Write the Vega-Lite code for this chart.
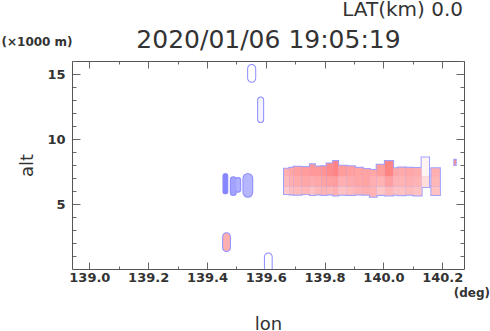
{
  "$schema": "https://vega.github.io/schema/vega-lite/v6.json",
  "width": 392,
  "height": 208,
  "autosize": "none",
  "padding": {"left": 72, "top": 61, "right": 26, "bottom": 62},
  "background": "white",
  "config": {"view": {"stroke": null}, "font": "DejaVu Sans"},
  "data": {"values": [
    {"kind": "band", "lon0": 139.662, "lon1": 139.680, "alt0": 5.76, "alt1": 6.35, "v": 1.4},
    {"kind": "band", "lon0": 139.662, "lon1": 139.680, "alt0": 6.35, "alt1": 7.15, "v": 1.8},
    {"kind": "band", "lon0": 139.662, "lon1": 139.680, "alt0": 7.15, "alt1": 7.72, "v": 2.1},
    {"kind": "band", "lon0": 139.680, "lon1": 139.694, "alt0": 5.74, "alt1": 6.35, "v": 1.7},
    {"kind": "band", "lon0": 139.680, "lon1": 139.694, "alt0": 6.35, "alt1": 7.15, "v": 2.1},
    {"kind": "band", "lon0": 139.680, "lon1": 139.694, "alt0": 7.15, "alt1": 7.78, "v": 2.3},
    {"kind": "band", "lon0": 139.694, "lon1": 139.722, "alt0": 5.72, "alt1": 6.35, "v": 1.8},
    {"kind": "band", "lon0": 139.694, "lon1": 139.722, "alt0": 6.35, "alt1": 7.15, "v": 2.2},
    {"kind": "band", "lon0": 139.694, "lon1": 139.722, "alt0": 7.15, "alt1": 7.86, "v": 2.5},
    {"kind": "band", "lon0": 139.722, "lon1": 139.750, "alt0": 5.76, "alt1": 6.35, "v": 1.9},
    {"kind": "band", "lon0": 139.722, "lon1": 139.750, "alt0": 6.35, "alt1": 7.15, "v": 2.3},
    {"kind": "band", "lon0": 139.722, "lon1": 139.750, "alt0": 7.15, "alt1": 7.84, "v": 2.6},
    {"kind": "band", "lon0": 139.750, "lon1": 139.767, "alt0": 5.70, "alt1": 6.35, "v": 1.6},
    {"kind": "band", "lon0": 139.750, "lon1": 139.767, "alt0": 6.35, "alt1": 7.15, "v": 2.2},
    {"kind": "band", "lon0": 139.750, "lon1": 139.767, "alt0": 7.15, "alt1": 8.05, "v": 2.7},
    {"kind": "band", "lon0": 139.767, "lon1": 139.790, "alt0": 5.74, "alt1": 6.35, "v": 1.9},
    {"kind": "band", "lon0": 139.767, "lon1": 139.790, "alt0": 6.35, "alt1": 7.15, "v": 2.3},
    {"kind": "band", "lon0": 139.767, "lon1": 139.790, "alt0": 7.15, "alt1": 7.88, "v": 2.7},
    {"kind": "band", "lon0": 139.790, "lon1": 139.807, "alt0": 5.70, "alt1": 6.35, "v": 2.0},
    {"kind": "band", "lon0": 139.790, "lon1": 139.807, "alt0": 6.35, "alt1": 7.15, "v": 2.4},
    {"kind": "band", "lon0": 139.790, "lon1": 139.807, "alt0": 7.15, "alt1": 7.90, "v": 2.8},
    {"kind": "band", "lon0": 139.807, "lon1": 139.829, "alt0": 5.74, "alt1": 6.35, "v": 1.9},
    {"kind": "band", "lon0": 139.807, "lon1": 139.829, "alt0": 6.35, "alt1": 7.15, "v": 2.5},
    {"kind": "band", "lon0": 139.807, "lon1": 139.829, "alt0": 7.15, "alt1": 8.12, "v": 3.0},
    {"kind": "band", "lon0": 139.829, "lon1": 139.846, "alt0": 5.66, "alt1": 6.35, "v": 2.1},
    {"kind": "band", "lon0": 139.829, "lon1": 139.846, "alt0": 6.35, "alt1": 7.15, "v": 2.6},
    {"kind": "band", "lon0": 139.829, "lon1": 139.846, "alt0": 7.15, "alt1": 8.30, "v": 3.2},
    {"kind": "band", "lon0": 139.846, "lon1": 139.875, "alt0": 5.72, "alt1": 6.35, "v": 1.6},
    {"kind": "band", "lon0": 139.846, "lon1": 139.875, "alt0": 6.35, "alt1": 7.15, "v": 2.1},
    {"kind": "band", "lon0": 139.846, "lon1": 139.875, "alt0": 7.15, "alt1": 7.95, "v": 2.6},
    {"kind": "band", "lon0": 139.875, "lon1": 139.903, "alt0": 5.70, "alt1": 6.35, "v": 1.8},
    {"kind": "band", "lon0": 139.875, "lon1": 139.903, "alt0": 6.35, "alt1": 7.15, "v": 2.2},
    {"kind": "band", "lon0": 139.875, "lon1": 139.903, "alt0": 7.15, "alt1": 7.90, "v": 2.5},
    {"kind": "band", "lon0": 139.903, "lon1": 139.930, "alt0": 5.74, "alt1": 6.35, "v": 2.0},
    {"kind": "band", "lon0": 139.903, "lon1": 139.930, "alt0": 6.35, "alt1": 7.15, "v": 2.3},
    {"kind": "band", "lon0": 139.903, "lon1": 139.930, "alt0": 7.15, "alt1": 7.78, "v": 2.4},
    {"kind": "band", "lon0": 139.930, "lon1": 139.954, "alt0": 5.72, "alt1": 6.35, "v": 2.1},
    {"kind": "band", "lon0": 139.930, "lon1": 139.954, "alt0": 6.35, "alt1": 7.15, "v": 2.4},
    {"kind": "band", "lon0": 139.930, "lon1": 139.954, "alt0": 7.15, "alt1": 7.70, "v": 2.4},
    {"kind": "band", "lon0": 139.954, "lon1": 139.977, "alt0": 5.56, "alt1": 6.35, "v": 2.0},
    {"kind": "band", "lon0": 139.954, "lon1": 139.977, "alt0": 6.35, "alt1": 7.15, "v": 2.1},
    {"kind": "band", "lon0": 139.954, "lon1": 139.977, "alt0": 7.15, "alt1": 7.62, "v": 2.3},
    {"kind": "band", "lon0": 139.977, "lon1": 140.005, "alt0": 5.70, "alt1": 6.35, "v": 1.5},
    {"kind": "band", "lon0": 139.977, "lon1": 140.005, "alt0": 6.35, "alt1": 7.15, "v": 2.0},
    {"kind": "band", "lon0": 139.977, "lon1": 140.005, "alt0": 7.15, "alt1": 8.02, "v": 2.6},
    {"kind": "band", "lon0": 140.005, "lon1": 140.033, "alt0": 5.66, "alt1": 6.35, "v": 1.9},
    {"kind": "band", "lon0": 140.005, "lon1": 140.033, "alt0": 6.35, "alt1": 7.15, "v": 2.5},
    {"kind": "band", "lon0": 140.005, "lon1": 140.033, "alt0": 7.15, "alt1": 8.30, "v": 3.2},
    {"kind": "band", "lon0": 140.033, "lon1": 140.050, "alt0": 5.72, "alt1": 6.35, "v": 1.6},
    {"kind": "band", "lon0": 140.033, "lon1": 140.050, "alt0": 6.35, "alt1": 7.15, "v": 2.0},
    {"kind": "band", "lon0": 140.033, "lon1": 140.050, "alt0": 7.15, "alt1": 7.75, "v": 2.3},
    {"kind": "band", "lon0": 140.050, "lon1": 140.075, "alt0": 5.68, "alt1": 6.35, "v": 1.6},
    {"kind": "band", "lon0": 140.050, "lon1": 140.075, "alt0": 6.35, "alt1": 7.15, "v": 2.0},
    {"kind": "band", "lon0": 140.050, "lon1": 140.075, "alt0": 7.15, "alt1": 7.80, "v": 2.2},
    {"kind": "band", "lon0": 140.075, "lon1": 140.101, "alt0": 5.72, "alt1": 6.35, "v": 1.8},
    {"kind": "band", "lon0": 140.075, "lon1": 140.101, "alt0": 6.35, "alt1": 7.15, "v": 2.1},
    {"kind": "band", "lon0": 140.075, "lon1": 140.101, "alt0": 7.15, "alt1": 7.78, "v": 2.3},
    {"kind": "band", "lon0": 140.101, "lon1": 140.130, "alt0": 5.66, "alt1": 6.35, "v": 1.6},
    {"kind": "band", "lon0": 140.101, "lon1": 140.130, "alt0": 6.35, "alt1": 7.15, "v": 2.0},
    {"kind": "band", "lon0": 140.101, "lon1": 140.130, "alt0": 7.15, "alt1": 7.76, "v": 2.2},
    {"kind": "band", "lon0": 140.130, "lon1": 140.155, "alt0": 6.30, "alt1": 7.15, "v": 0.9},
    {"kind": "band", "lon0": 140.130, "lon1": 140.155, "alt0": 7.15, "alt1": 8.58, "v": 0.3},
    {"kind": "band", "lon0": 140.163, "lon1": 140.192, "alt0": 5.69, "alt1": 6.35, "v": 1.6},
    {"kind": "band", "lon0": 140.163, "lon1": 140.192, "alt0": 6.35, "alt1": 7.15, "v": 1.9},
    {"kind": "band", "lon0": 140.163, "lon1": 140.192, "alt0": 7.15, "alt1": 7.75, "v": 2.1},
    {"kind": "band", "lon0": 140.241, "lon1": 140.246, "alt0": 8.0, "alt1": 8.4, "v": 3.0},
    {"kind": "blob", "lon0": 139.456, "lon1": 139.469, "alt0": 5.82, "alt1": 7.30, "v": -3.2},
    {"kind": "blob", "lon0": 139.481, "lon1": 139.498, "alt0": 5.69, "alt1": 7.05, "v": -2.4},
    {"kind": "blob", "lon0": 139.498, "lon1": 139.513, "alt0": 5.95, "alt1": 7.00, "v": -2.1},
    {"kind": "blob", "lon0": 139.524, "lon1": 139.554, "alt0": 5.56, "alt1": 7.31, "v": -1.9},
    {"kind": "blob", "lon0": 139.455, "lon1": 139.478, "alt0": 1.38, "alt1": 2.75, "v": 2.1},
    {"kind": "blob", "lon0": 139.540, "lon1": 139.564, "alt0": 14.4, "alt1": 15.7, "v": 0},
    {"kind": "blob", "lon0": 139.574, "lon1": 139.591, "alt0": 11.3, "alt1": 13.2, "v": -0.3},
    {"kind": "blob", "lon0": 139.597, "lon1": 139.620, "alt0": -0.3, "alt1": 1.2, "v": 0}
  ]},
  "layer": [
    {
      "transform": [{"filter": "datum.kind == 'band'"}],
      "mark": {"type": "rect", "fill": "#a0a0ff", "stroke": "#a0a0ff", "strokeWidth": 2, "clip": true},
      "encoding": {
        "x": {"field": "lon0", "type": "quantitative",
          "scale": {"domain": [138.941, 140.274], "nice": false, "zero": false},
          "axis": {"orient": "bottom", "values": [139.0, 139.1, 139.2, 139.3, 139.4, 139.5, 139.6, 139.7, 139.8, 139.9, 140.0, 140.1, 140.2],
            "labelExpr": "round(datum.value*10) % 2 == 0 ? format(datum.value, '.1f') : ''",
            "title": "lon", "titleFontSize": 18, "titleFontWeight": "normal", "titleColor": "#333333", "titleFont": "DejaVu Sans", "titlePadding": 27,
            "labelFont": "DejaVu Sans", "labelFontWeight": "bold", "labelFontSize": 13, "labelColor": "#333333", "labelPadding": 9,
            "tickSize": {"condition": {"test": "round(datum.value*10) % 2 == 0", "value": -7}, "value": -3},
            "tickColor": "#666666", "domainColor": "#555555", "grid": false, "labelFlush": false, "labelOverlap": false}},
        "x2": {"field": "lon1"},
        "y": {"field": "alt0", "type": "quantitative",
          "scale": {"domain": [0, 16], "nice": false, "zero": false},
          "axis": {"orient": "left", "values": [1, 2, 3, 4, 5, 6, 7, 8, 9, 10, 11, 12, 13, 14, 15, 16],
            "labelExpr": "datum.value % 5 == 0 ? datum.label : ''",
            "title": "alt", "titleFontSize": 18, "titleFontWeight": "normal", "titleColor": "#333333", "titleFont": "DejaVu Sans", "titlePadding": 10,
            "labelFont": "DejaVu Sans", "labelFontWeight": "bold", "labelFontSize": 13, "labelColor": "#333333", "labelPadding": 15,
            "tickSize": {"condition": {"test": "datum.value % 5 == 0", "value": -8}, "value": -4},
            "tickColor": "#666666", "domainColor": "#555555", "grid": false, "labelOverlap": false}},
        "y2": {"field": "alt1"}
      }
    },
    {
      "transform": [{"filter": "datum.kind == 'band'"}],
      "mark": {"type": "rect", "clip": true},
      "encoding": {
        "x": {"field": "lon0", "type": "quantitative",
          "axis": {"orient": "top", "values": [139.0, 139.1, 139.2, 139.3, 139.4, 139.5, 139.6, 139.7, 139.8, 139.9, 140.0, 140.1, 140.2],
            "labels": false, "grid": false,
            "title": "2020/01/06 19:05:19", "titleFontSize": 25, "titleFontWeight": "normal", "titleColor": "#333333", "titleFont": "DejaVu Sans",
            "titleX": 196, "titleY": -14, "titleAlign": "center", "titleBaseline": "alphabetic", "titleAngle": 0,
            "tickSize": {"condition": {"test": "round(datum.value*10) % 2 == 0", "value": -7}, "value": -3},
            "tickColor": "#666666", "domainColor": "#555555"}},
        "x2": {"field": "lon1"},
        "y": {"field": "alt0", "type": "quantitative",
          "axis": {"orient": "right", "values": [1, 2, 3, 4, 5, 6, 7, 8, 9, 10, 11, 12, 13, 14, 15, 16],
            "labels": false, "grid": false,
            "title": "(×1000 m)", "titleFontSize": 12, "titleFontWeight": "bold", "titleColor": "#333333", "titleFont": "DejaVu Sans",
            "titleX": -463, "titleY": -16, "titleAlign": "left", "titleBaseline": "alphabetic", "titleAngle": 0,
            "tickSize": {"condition": {"test": "datum.value % 5 == 0", "value": -8}, "value": -4},
            "tickColor": "#666666", "domainColor": "#555555"}},
        "y2": {"field": "alt1"},
        "color": {"field": "v", "type": "quantitative",
          "scale": {"domain": [-4, 0, 4], "range": ["#6666ff", "#ffffff", "#ff6666"], "interpolate": "rgb"}, "legend": null}
      }
    },
    {
      "transform": [{"filter": "datum.kind == 'blob'"}],
      "mark": {"type": "rect", "fill": "#8c8cff", "stroke": "#8c8cff", "strokeWidth": 2, "cornerRadius": 30, "clip": true},
      "encoding": {
        "x": {"field": "lon0", "type": "quantitative", "axis": null},
        "x2": {"field": "lon1"},
        "y": {"field": "alt0", "type": "quantitative", "axis": null},
        "y2": {"field": "alt1"}
      }
    },
    {
      "transform": [{"filter": "datum.kind == 'blob'"}],
      "mark": {"type": "rect", "cornerRadius": 30, "clip": true},
      "encoding": {
        "x": {"field": "lon0", "type": "quantitative", "axis": null},
        "x2": {"field": "lon1"},
        "y": {"field": "alt0", "type": "quantitative", "axis": null},
        "y2": {"field": "alt1"},
        "color": {"field": "v", "type": "quantitative",
          "scale": {"domain": [-4, 0, 4], "range": ["#6666ff", "#ffffff", "#ff6666"], "interpolate": "rgb"}, "legend": null}
      }
    },
    {
      "data": {"values": [{"t": "(deg)", "lon": 140.274, "alt": 0}]},
      "mark": {"type": "text", "align": "right", "baseline": "alphabetic", "dx": 26, "dy": 28, "fontSize": 12, "fontWeight": "bold", "color": "#333333", "font": "DejaVu Sans"},
      "encoding": {
        "x": {"field": "lon", "type": "quantitative", "axis": null},
        "y": {"field": "alt", "type": "quantitative", "axis": null},
        "text": {"field": "t"}
      }
    },
    {
      "data": {"values": [{"t": "LAT(km) 0.0", "lon": 140.274, "alt": 16}]},
      "mark": {"type": "text", "align": "right", "baseline": "alphabetic", "dx": -1, "dy": -45, "fontSize": 20, "fontWeight": "normal", "color": "#333333", "font": "DejaVu Sans"},
      "encoding": {
        "x": {"field": "lon", "type": "quantitative", "axis": null},
        "y": {"field": "alt", "type": "quantitative", "axis": null},
        "text": {"field": "t"}
      }
    }
  ],
  "resolve": {"axis": {"x": "independent", "y": "independent"}}
}
